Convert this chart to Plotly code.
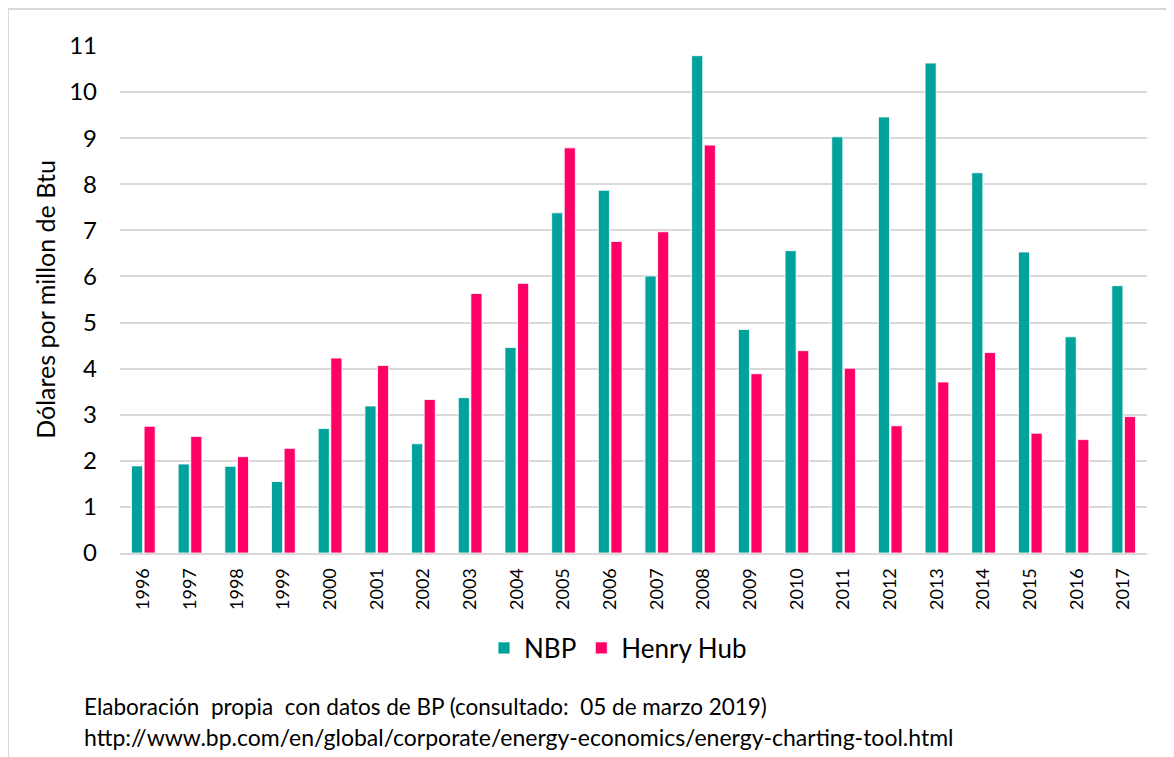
import plotly.graph_objects as go

years = [str(y) for y in range(1996, 2018)]
nbp = [1.89, 1.93, 1.88, 1.55, 2.70, 3.19, 2.37, 3.37, 4.46, 7.38, 7.87, 6.01,
       10.79, 4.85, 6.56, 9.03, 9.46, 10.63, 8.25, 6.53, 4.69, 5.80]
henry_hub = [2.75, 2.53, 2.09, 2.27, 4.23, 4.07, 3.33, 5.63, 5.85, 8.79, 6.76, 6.97,
             8.85, 3.89, 4.39, 4.01, 2.76, 3.71, 4.35, 2.60, 2.46, 2.96]
y_ticks = list(range(0, 12))

# page has an 8px body margin; work in reference-pixel coordinates and shift
OFF = 8
W, H = 1174 - OFF, 757 - OFF
L, R, T, B = 120 - OFF, 1174 - 1147, 46 - OFF, 757 - 553
pw, ph = W - L - R, H - T - B

def px_x(p):
    return (p - OFF - L) / pw

def px_y(p):
    return (H - B - (p - OFF)) / ph

FONT = "Lato"

fig = go.Figure()
fig.add_trace(go.Bar(x=years, y=nbp, name="NBP",
                     marker=dict(color="#00A29B", line=dict(color="white", width=0.8))))
fig.add_trace(go.Bar(x=years, y=henry_hub, name="Henry Hub",
                     marker=dict(color="#FF0066", line=dict(color="white", width=0.8))))

fig.update_layout(
    width=W, height=H,
    margin=dict(l=L, r=R, t=T, b=B, autoexpand=False),
    paper_bgcolor="white", plot_bgcolor="white",
    barmode="group", bargap=0.46, bargroupgap=0.12,
    font=dict(family=FONT, color="#000000"),
    showlegend=True,
    legend=dict(orientation="h", x=px_x(618), xanchor="center", y=px_y(648), yanchor="middle",
                font=dict(size=26, family=FONT), traceorder="normal"),
    xaxis=dict(type="category", tickangle=-90, tickfont=dict(size=18, family=FONT),
               showline=True, linecolor="#D9D9D9", linewidth=2, ticks="",
               showgrid=False, ticklabelstandoff=6),
    yaxis=dict(range=[0, 11], tickvals=y_ticks, tickfont=dict(size=24, family=FONT),
               showgrid=True, gridcolor="#D9D9D9", gridwidth=2, zeroline=False,
               ticks="", ticklabelstandoff=22,
               title=dict(text="Dólares por millon de Btu", font=dict(size=25, family=FONT),
                          standoff=6)),
    shapes=[
        dict(type="line", xref="paper", yref="paper", x0=px_x(8), x1=px_x(1174),
             y0=px_y(9), y1=px_y(9), line=dict(color="#D9D9D9", width=2)),
        dict(type="line", xref="paper", yref="paper", x0=px_x(8), x1=px_x(8),
             y0=px_y(9), y1=px_y(757), line=dict(color="#D9D9D9", width=2)),
    ],
    annotations=[
        dict(text="Elaboración  propia  con datos de BP (consultado:  05 de marzo 2019)",
             xref="paper", yref="paper", x=px_x(82), y=px_y(706), xanchor="left",
             yanchor="middle", showarrow=False, font=dict(size=22.5, family=FONT)),
        dict(text="http://www.bp.com/en/global/corporate/energy-economics/energy-charting-tool.html",
             xref="paper", yref="paper", x=px_x(82), y=px_y(737), xanchor="left",
             yanchor="middle", showarrow=False, font=dict(size=23, family=FONT)),
    ],
)

fig.write_html("out.html")
